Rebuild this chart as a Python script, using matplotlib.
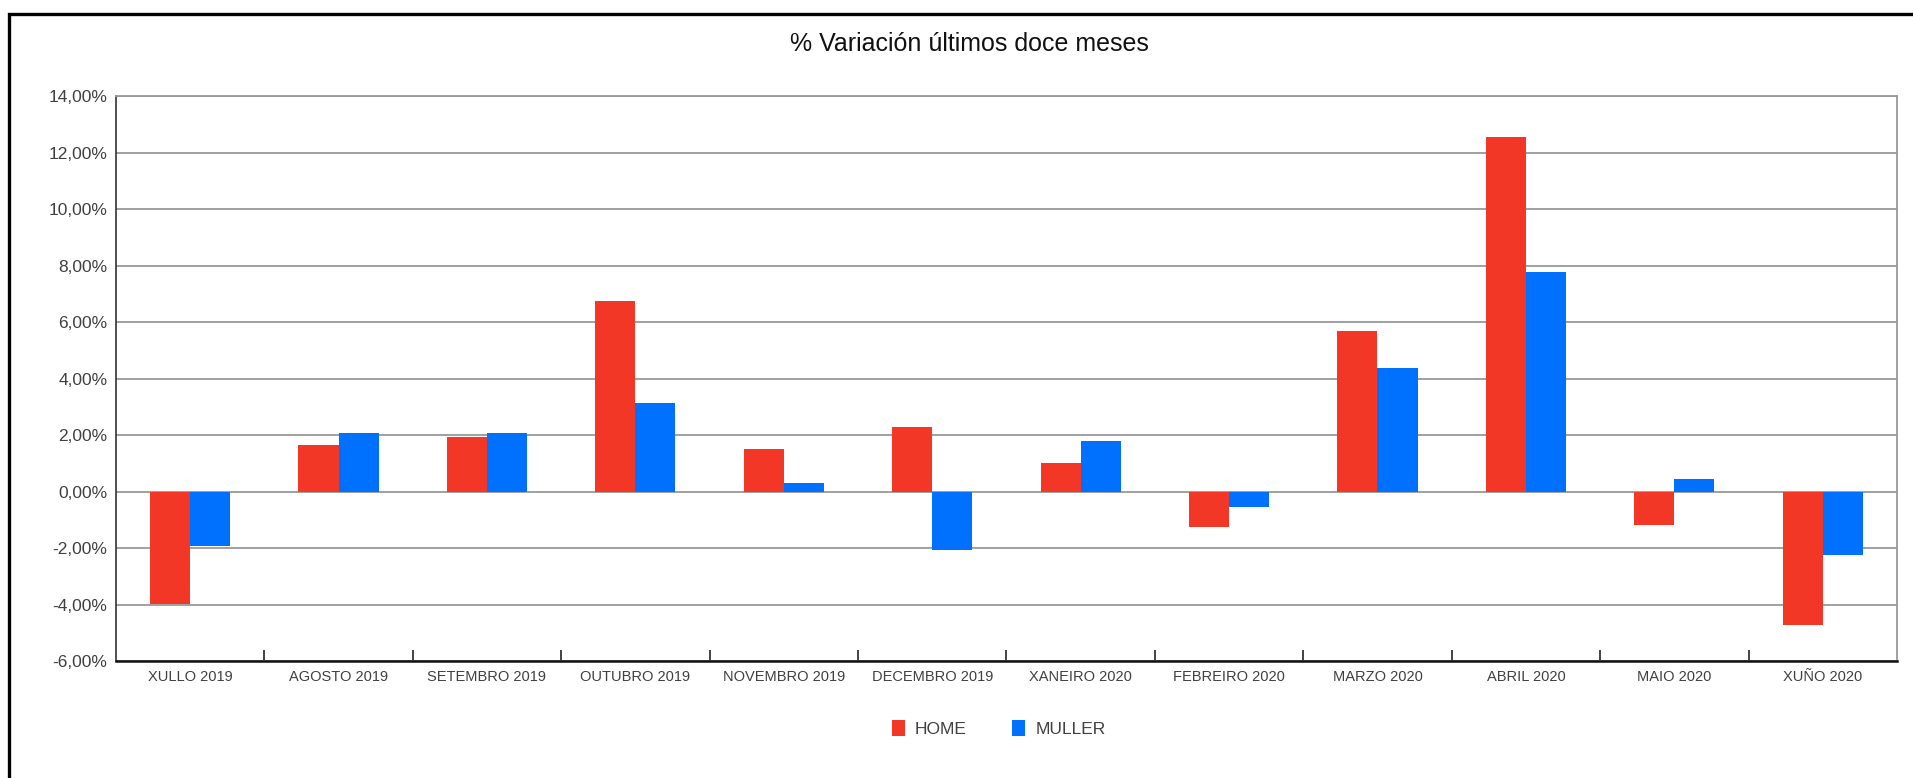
import matplotlib
matplotlib.use('Agg')
import matplotlib.pyplot as plt
import numpy as np
from matplotlib.patches import Rectangle
from matplotlib.ticker import FixedLocator, FuncFormatter

plt.rcParams['font.family'] = ['Liberation Sans', 'DejaVu Sans']

months = ['XULLO 2019', 'AGOSTO 2019', 'SETEMBRO 2019', 'OUTUBRO 2019', 'NOVEMBRO 2019',
          'DECEMBRO 2019', 'XANEIRO 2020', 'FEBREIRO 2020', 'MARZO 2020', 'ABRIL 2020',
          'MAIO 2020', 'XUÑO 2020']
home = [-3.97, 1.66, 1.94, 6.76, 1.51, 2.29, 1.01, -1.25, 5.68, 12.58, -1.18, -4.71]
muller = [-1.90, 2.08, 2.08, 3.14, 0.31, -2.05, 1.80, -0.55, 4.40, 7.79, 0.47, -2.24]

red = '#F23727'
blue = '#0070FF'

fig = plt.figure(figsize=(19.13, 7.78), dpi=100)
ax = fig.add_axes([0.0606, 0.150, 0.931, 0.726])

x = np.arange(len(months))
w = 0.27
ax.bar(x - w / 2, home, w, color=red, label='HOME', zorder=3)
ax.bar(x + w / 2, muller, w, color=blue, label='MULLER', zorder=3)

ax.set_xlim(-0.5, len(months) - 0.5)
ax.set_ylim(-6, 14)
ax.set_yticks(np.arange(-6, 15, 2))
ax.yaxis.set_major_formatter(FuncFormatter(lambda v, p: f"{v:.2f}%".replace('.', ',')))
ax.yaxis.grid(True, color='#999999', linewidth=1.3, zorder=0)
ax.tick_params(axis='y', length=0, labelsize=12.5, labelcolor='#404040', pad=6)

ax.set_xticks(x)
ax.set_xticklabels(months)
ax.xaxis.set_minor_locator(FixedLocator(np.arange(0.5, len(months) - 1, 1)))
ax.tick_params(axis='x', which='major', length=0, labelsize=10.5, labelcolor='#404040', pad=6)
ax.tick_params(axis='x', which='minor', direction='in', length=8, width=1.2, color='#222222')

ax.spines['left'].set_color('#333333')
ax.spines['left'].set_linewidth(1.2)
ax.spines['bottom'].set_color('#111111')
ax.spines['bottom'].set_linewidth(1.8)
ax.spines['right'].set_color('#999999')
ax.spines['right'].set_linewidth(1.3)
ax.spines['top'].set_color('#999999')
ax.spines['top'].set_linewidth(1.3)

fig.text(0.507, 0.944, '% Variación últimos doce meses', ha='center', va='center', fontsize=18, color='#111111')

fig.legend(loc='center', bbox_to_anchor=(0.522, 0.064), ncol=2, frameon=False,
           fontsize=12.5, handlelength=0.75, handleheight=1.1, columnspacing=2.6,
           handletextpad=0.6, labelcolor='#404040')

# outer frame of the chart
fig.patches.append(Rectangle((0.0045, -0.05), 1.1, 1.032, transform=fig.transFigure,
                             fill=False, edgecolor='black', linewidth=2.4))

fig.savefig('out.png', dpi=100)
